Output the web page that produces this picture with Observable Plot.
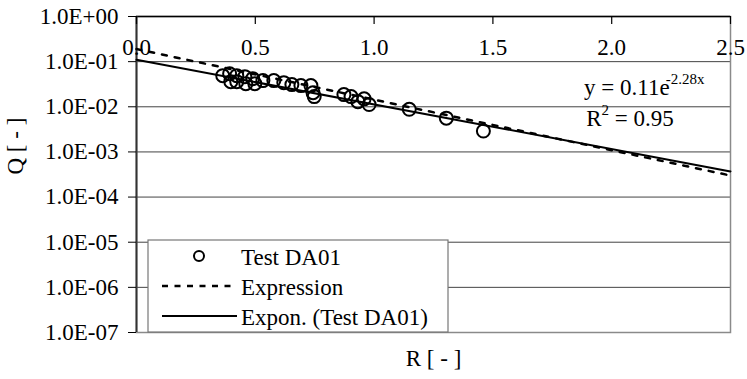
<!DOCTYPE html>
<html><head><meta charset="utf-8">
<script src="https://cdn.jsdelivr.net/npm/d3@7"></script>
<script src="https://cdn.jsdelivr.net/npm/@observablehq/plot@0.6"></script>
<style>body{margin:0;background:#fff;} svg{display:block}
svg text{font-family:"Liberation Serif","Times New Roman",Times,"Nimbus Roman",FreeSerif,"Noto Serif","DejaVu Serif",serif !important;}</style>
</head><body><div id="chart"></div>
<script>
// Test DA01 measurements (R, Q)
const testR = [0.363,0.392,0.397,0.422,0.422,0.456,0.460,0.489,0.498,0.532,0.578,0.620,0.654,0.692,0.734,0.743,0.748,0.873,0.903,0.932,0.958,0.979,1.148,1.304,1.460];
const testQ = [0.0490,0.0540,0.0360,0.0490,0.0360,0.0465,0.0325,0.0420,0.0325,0.0380,0.0380,0.0342,0.0310,0.0295,0.0295,0.0205,0.0168,0.0186,0.0168,0.0130,0.0150,0.0112,0.00880,0.0056,0.00290];
// "Expression" line end points
const exprR = [0, 2.5];
const exprQ = [0.19, 0.0003];
// Exponential trend line end points (y = 0.11 e^-2.28x)
const trendR = [0, 2.5];
const trendQ = [0.11, 0.00037];
const yTicks = [1, 1e-1, 1e-2, 1e-3, 1e-4, 1e-5, 1e-6, 1e-7];
const yTickLabels = ["1.0E+00","1.0E-01","1.0E-02","1.0E-03","1.0E-04","1.0E-05","1.0E-06","1.0E-07"];
const xTicks = [0, 0.5, 1, 1.5, 2, 2.5];
const xTickLabels = ["0.0","0.5","1.0","1.5","2.0","2.5"];
const seriesNames = ["Test DA01", "Expression", "Expon. (Test DA01)"];
const eqMain = "y = 0.11e", eqExp = "-2.28x", r2Label = "R", r2Sup = "2", r2Val = " = 0.95";
const xLabel = "R [ - ]", yLabel = "Q [ - ]";

const points = testR.map((r, i) => ({r, q: testQ[i]}));
const expr = exprR.map((r, i) => ({r, q: exprQ[i]}));
const trend = trendR.map((r, i) => ({r, q: trendQ[i]}));
const font = "Liberation Serif, Times New Roman, serif";
const FS = 23;
const W0 = 747, H0 = 379, mT = 16, mB = 47;
const frameH = H0 - mT - mB;

const chart = Plot.plot({
  width: W0, height: H0,
  marginLeft: 136, marginRight: 17, marginTop: mT, marginBottom: mB,
  style: {fontFamily: font, fontSize: FS + "px", color: "#000", background: "#fff", overflow: "visible"},
  x: {domain: [0, 2.5], axis: null},
  y: {type: "log", domain: [1e-7, 1]},
  marks: [
    Plot.gridY(yTicks, {stroke: "#222", strokeOpacity: 0.85}),
    Plot.frame({stroke: "#8a8a8a", strokeWidth: 1.5}),
    Plot.ruleY([1], {stroke: "#000", strokeWidth: 1.5}),
    Plot.ruleX([0], {stroke: "#333", strokeWidth: 2}),
    Plot.axisY(yTicks, {anchor: "left", tickSize: 8, tickPadding: 10, stroke: "#000", fontSize: FS,
      tickFormat: d => yTickLabels[yTicks.indexOf(d)], label: null}),
    Plot.ruleX(xTicks, {x: d => d, insetBottom: frameH - 8, stroke: "#000", strokeWidth: 1.2}),
    Plot.text(xTicks, {x: d => d, frameAnchor: "top", dy: 31, lineAnchor: "middle", fontSize: FS, text: (d, i) => xTickLabels[i]}),
    Plot.text([xLabel], {frameAnchor: "bottom", dy: 26, lineAnchor: "middle", fontSize: FS, text: d => d}),
    Plot.text([yLabel], {frameAnchor: "left", dx: -121, rotate: -90, lineAnchor: "middle", fontSize: FS, text: d => d}),
    Plot.line(expr, {x: "r", y: "q", stroke: "#000", strokeWidth: 2.5, strokeDasharray: "5,8"}),
    Plot.line(trend, {x: "r", y: "q", stroke: "#000", strokeWidth: 2}),
    Plot.dot(points, {x: "r", y: "q", r: 6.5, stroke: "#000", strokeWidth: 2, fill: "none"})
  ]
});
document.getElementById("chart").append(chart);

const svg = d3.select(chart);
const sx = chart.scale("x"), sy = chart.scale("y");
// Equation annotation
const eq = svg.append("text").attr("x", sx.apply(1.886)).attr("y", sy.apply(0.0176))
  .attr("text-anchor", "start").attr("font-size", FS);
eq.append("tspan").text(eqMain);
eq.append("tspan").attr("dy", -11).attr("font-size", 15).attr("dx", -4).text(eqExp);
const r2 = svg.append("text").attr("x", sx.apply(1.895)).attr("y", sy.apply(0.0037))
  .attr("text-anchor", "start").attr("font-size", FS);
r2.append("tspan").text(r2Label);
r2.append("tspan").attr("dy", -11).attr("font-size", 15).text(r2Sup);
r2.append("tspan").attr("dy", 11).text(r2Val);

// Legend
const L = 148, T = 240, W = 300, H = 92;
const lg = svg.append("g");
lg.append("rect").attr("x", L).attr("y", T).attr("width", W).attr("height", H)
  .attr("fill", "#fff").attr("stroke", "#777").attr("stroke-width", 1.2);
const rows = [256, 286, 316];
lg.append("circle").attr("cx", L + 51).attr("cy", rows[0]).attr("r", 5)
  .attr("fill", "none").attr("stroke", "#000").attr("stroke-width", 2);
lg.append("line").attr("x1", L + 14).attr("x2", L + 89).attr("y1", rows[1]).attr("y2", rows[1])
  .attr("stroke", "#000").attr("stroke-width", 2.5).attr("stroke-dasharray", "6,6.5");
lg.append("line").attr("x1", L + 14).attr("x2", L + 89).attr("y1", rows[2]).attr("y2", rows[2])
  .attr("stroke", "#000").attr("stroke-width", 2);
seriesNames.forEach((n, i) => {
  lg.append("text").attr("x", L + 93).attr("y", rows[i] + 1).attr("dy", "0.35em")
    .attr("text-anchor", "start").attr("font-size", FS).text(n);
});
</script></body></html>
